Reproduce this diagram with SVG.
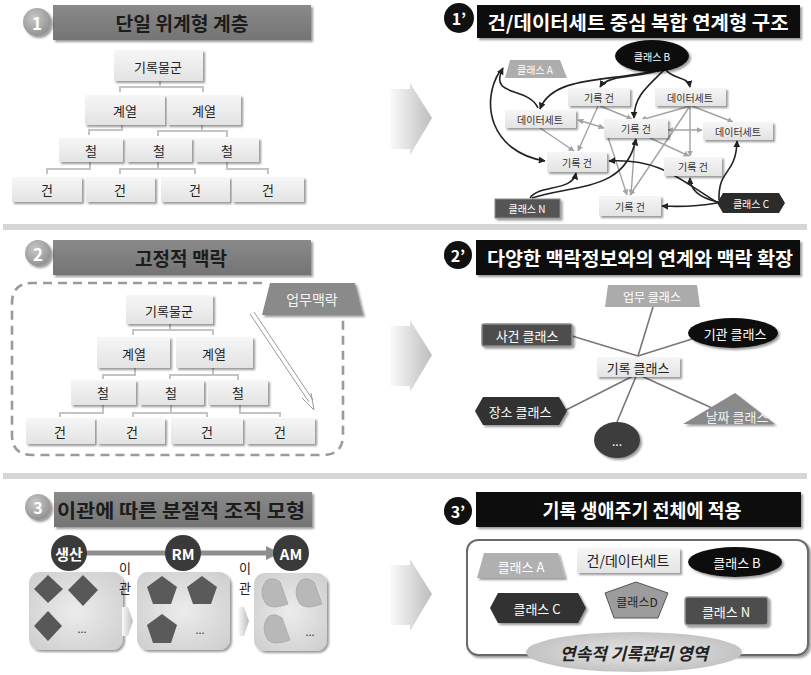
<svg xmlns="http://www.w3.org/2000/svg" width="811" height="675" viewBox="0 0 811 675">
<defs>
<style>
text{font-family:"Noto Sans CJK KR","Noto Sans",sans-serif;dominant-baseline:central;text-anchor:middle}
.tb{fill:#1c1c1c;font-weight:bold;font-size:19px}
.tw{fill:#fff;font-weight:bold;font-size:19px}
.bx{fill:url(#gBox);filter:url(#sh)}
.bt{fill:#222;font-size:13px}
.tl{fill:none;stroke:#c4c4c4;stroke-width:2}
.nt{fill:#333;font-size:10px}
.nw{fill:#fff;font-size:10px}
.dk{fill:none;stroke:#222;stroke-width:1.6;marker-end:url(#aD)}
.gr{fill:none;stroke:#a3a3a3;stroke-width:1.4;marker-end:url(#aG)}
.sp{fill:none;stroke:#777;stroke-width:1.6}
.lt{fill:#222;font-size:14px}
.vt{fill:#222;font-size:13px}
.wt{fill:#fff;font-size:13px}
.st{fill:#fff;font-weight:bold;font-size:15px}
</style>
<linearGradient id="gBox" x1="0" y1="0" x2="0" y2="1"><stop offset="0" stop-color="#f6f6f6"/><stop offset="1" stop-color="#e3e3e3"/></linearGradient>
<linearGradient id="gBar" x1="0" y1="0" x2="0" y2="1"><stop offset="0" stop-color="#8a8a8a"/><stop offset="1" stop-color="#747474"/></linearGradient>
<linearGradient id="gArr" x1="0" y1="0" x2="1" y2="0"><stop offset="0" stop-color="#fbfbfb"/><stop offset="1" stop-color="#bdbdbd"/></linearGradient>
<radialGradient id="gBadge" cx="0.4" cy="0.35" r="0.7"><stop offset="0" stop-color="#c8c8c8"/><stop offset="1" stop-color="#8e8e8e"/></radialGradient>
<radialGradient id="gPanel" cx="0.5" cy="0.5" r="0.7"><stop offset="0" stop-color="#ececec"/><stop offset="1" stop-color="#cdcdcd"/></radialGradient>
<radialGradient id="gEll" cx="0.5" cy="0.5" r="0.6"><stop offset="0" stop-color="#e6e6e6"/><stop offset="1" stop-color="#bdbdbd"/></radialGradient>
<filter id="sh" x="-20%" y="-20%" width="150%" height="160%"><feDropShadow dx="2" dy="2" stdDeviation="1.2" flood-color="#000" flood-opacity="0.4"/></filter>
<marker id="aD" viewBox="0 0 10 10" refX="9" refY="5" markerWidth="7" markerHeight="7" markerUnits="userSpaceOnUse" orient="auto-start-reverse"><path d="M0,0L10,5L0,10z" fill="#222"/></marker>
<marker id="aG" viewBox="0 0 10 10" refX="9" refY="5" markerWidth="6" markerHeight="6" markerUnits="userSpaceOnUse" orient="auto-start-reverse"><path d="M0,0L10,5L0,10z" fill="#a3a3a3"/></marker>
</defs>
<rect width="811" height="675" fill="#fff"/>

<!-- dividers -->
<rect x="3" y="224" width="804" height="6" fill="#d6d6d6"/>
<rect x="3" y="473" width="804" height="6" fill="#d6d6d6"/>

<!-- big arrows -->
<g id="bigArrows" fill="url(#gArr)">
<polygon points="390,89 410,89 410,83 432,118 410,155 410,149 390,149"/>
<polygon points="390,326 410,326 410,320 432,355 410,392 410,386 390,386"/>
<polygon points="390,565 410,565 410,559 432,594 410,631 410,625 390,625"/>
</g>

<!-- ===== Section 1 ===== -->
<g id="title1">
<rect x="53" y="5" width="258" height="35" fill="url(#gBar)" filter="url(#sh)"/>
<circle cx="37" cy="22" r="14" fill="url(#gBadge)" filter="url(#sh)"/>
<text x="37" y="22" fill="#fff" font-weight="bold" font-size="17">1</text>
<text class="tb" x="182" y="22" textLength="133" lengthAdjust="spacingAndGlyphs">단일 위계형 계층</text>
</g>
<g id="tree1-lines">
<polyline class="tl" points="160,81 160,87"/><polyline class="tl" points="120,92 120,87 203,87 203,92"/>
<polyline class="tl" points="122,125 122,130 89,130 89,135"/>
<polyline class="tl" points="202,125 202,131"/><polyline class="tl" points="158,136 158,131 227,131 227,137"/>
<polyline class="tl" points="90,162 90,169 47,169 47,174"/>
<polyline class="tl" points="158,162 158,169"/><polyline class="tl" points="120,174 120,169 195,169 195,174"/>
<polyline class="tl" points="227,162 227,169 268,169 268,174"/>
</g>
<g id="t1-root"><rect class="bx" x="114" y="50" width="89" height="31"/><text class="bt" x="158" y="66">기록물군</text></g>
<g id="t1-s1"><rect class="bx" x="85" y="95" width="80" height="30"/><text class="bt" x="125" y="110">계열</text></g>
<g id="t1-s2"><rect class="bx" x="167" y="95" width="74" height="30"/><text class="bt" x="204" y="110">계열</text></g>
<g id="t1-f1"><rect class="bx" x="59" y="138" width="64" height="24"/><text class="bt" x="91" y="150">철</text></g>
<g id="t1-f2"><rect class="bx" x="126" y="138" width="66" height="24"/><text class="bt" x="159" y="150">철</text></g>
<g id="t1-f3"><rect class="bx" x="195" y="138" width="64" height="24"/><text class="bt" x="227" y="150">철</text></g>
<g id="t1-i1"><rect class="bx" x="12" y="177" width="70" height="25"/><text class="bt" x="47" y="189">건</text></g>
<g id="t1-i2"><rect class="bx" x="86" y="177" width="69" height="25"/><text class="bt" x="120" y="189">건</text></g>
<g id="t1-i3"><rect class="bx" x="161" y="177" width="69" height="25"/><text class="bt" x="195" y="189">건</text></g>
<g id="t1-i4"><rect class="bx" x="232" y="177" width="72" height="25"/><text class="bt" x="268" y="189">건</text></g>

<!-- ===== Section 2 ===== -->
<g id="title2">
<rect x="53" y="240" width="258" height="35" fill="url(#gBar)" filter="url(#sh)"/>
<circle cx="38" cy="253" r="13" fill="url(#gBadge)" filter="url(#sh)"/>
<text x="38" y="253" fill="#fff" font-weight="bold" font-size="17">2</text>
<text class="tb" x="181" y="257" textLength="92" lengthAdjust="spacingAndGlyphs">고정적 맥락</text>
</g>
<g id="context-frame">
<path d="M262,283 L32,283 Q12,283 12,303 L12,435 Q12,455 32,455 L323,455 Q343,455 343,435 L343,315" fill="none" stroke="#9a9a9a" stroke-width="2.6" stroke-dasharray="9,6"/>
<polygon points="270,283 355,283 363,315 262,315" fill="#8a8a8a" filter="url(#sh)"/>
<text x="312" y="299" fill="#f4f4f4" font-size="14">업무맥락</text>
<g fill="none" stroke="#9a9a9a" stroke-width="1">
<line x1="250" y1="314" x2="309" y2="402"/><line x1="254" y1="312" x2="313" y2="400"/>
<polyline points="302,398 314,410 311,393"/>
</g>
</g>
<g id="tree2-lines">
<polyline class="tl" points="170,324 170,330"/><polyline class="tl" points="133,335 133,330 213,330 213,335"/>
<polyline class="tl" points="135,368 135,375 103,375 103,379"/>
<polyline class="tl" points="213,368 213,375"/><polyline class="tl" points="170,379 170,375 238,375 238,380"/>
<polyline class="tl" points="103,405 103,413 60,413 60,417"/>
<polyline class="tl" points="171,405 171,413"/><polyline class="tl" points="133,417 133,413 207,413 207,417"/>
<polyline class="tl" points="240,405 240,413 280,413 280,417"/>
</g>
<g id="t2-root"><rect class="bx" x="126" y="295" width="87" height="29"/><text class="bt" x="169" y="310">기록물군</text></g>
<g id="t2-s1"><rect class="bx" x="97" y="337" width="73" height="31"/><text class="bt" x="134" y="353">계열</text></g>
<g id="t2-s2"><rect class="bx" x="176" y="337" width="77" height="31"/><text class="bt" x="214" y="353">계열</text></g>
<g id="t2-f1"><rect class="bx" x="71" y="380" width="65" height="25"/><text class="bt" x="103" y="392">철</text></g>
<g id="t2-f2"><rect class="bx" x="139" y="380" width="65" height="25"/><text class="bt" x="171" y="392">철</text></g>
<g id="t2-f3"><rect class="bx" x="208" y="380" width="60" height="25"/><text class="bt" x="238" y="392">철</text></g>
<g id="t2-i1"><rect class="bx" x="26" y="418" width="69" height="26"/><text class="bt" x="60" y="431">건</text></g>
<g id="t2-i2"><rect class="bx" x="97" y="418" width="68" height="26"/><text class="bt" x="132" y="431">건</text></g>
<g id="t2-i3"><rect class="bx" x="171" y="418" width="72" height="26"/><text class="bt" x="207" y="431">건</text></g>
<g id="t2-i4"><rect class="bx" x="246" y="418" width="69" height="26"/><text class="bt" x="280" y="431">건</text></g>

<!-- ===== Section 3 ===== -->
<g id="title3">
<rect x="54" y="492" width="258" height="35" fill="url(#gBar)" filter="url(#sh)"/>
<circle cx="38" cy="507" r="13" fill="url(#gBadge)" filter="url(#sh)"/>
<text x="38" y="507" fill="#fff" font-weight="bold" font-size="16">3</text>
<text class="tb" x="181" y="509" textLength="248" lengthAdjust="spacingAndGlyphs">이관에 따른 분절적 조직 모형</text>
</g>
<g id="flow-line">
<line x1="80" y1="553" x2="268" y2="553" stroke="#8e8e8e" stroke-width="5"/>
<polygon points="266,546 280,553 266,560" fill="#8e8e8e"/>
</g>
<g id="panel1">
<rect x="29" y="572" width="94" height="78" rx="11" fill="url(#gPanel)" filter="url(#sh)"/>
<g fill="#585858"><polygon points="48,575 63,589 48,603 34,589"/><polygon points="83,575 98,590 83,606 68,590"/><polygon points="48,611 62,626 48,641 34,626"/></g>
<text x="82" y="628" fill="#333" font-size="11">...</text>
</g>
<g id="panel2">
<rect x="137" y="572" width="93" height="78" rx="11" fill="url(#gPanel)" filter="url(#sh)"/>
<g fill="#5a5a5a"><polygon points="162,576 177,587 171,604 153,604 147,587"/><polygon points="202,576 217,587 211,604 193,604 187,587"/><polygon points="162,614 177,625 171,643 153,643 147,625"/></g>
<text x="200" y="629" fill="#333" font-size="11">...</text>
</g>
<g id="panel3">
<rect x="254" y="573" width="73" height="78" rx="11" fill="url(#gPanel)" filter="url(#sh)"/>
<g fill="#b8b8b8" stroke="#a8a8a8" stroke-width="0.8">
<path d="M266,581 Q258,592 266,604 Q272,610 288,604 L280,582 Q272,576 266,581 Z"/>
<path d="M300,581 Q292,592 300,604 Q306,610 322,604 L314,582 Q306,576 300,581 Z"/>
<path d="M268,617 Q260,628 268,640 Q274,646 290,640 L282,618 Q274,612 268,617 Z"/>
</g>
<text x="310" y="631" fill="#333" font-size="11">...</text>
</g>
<g id="stage-sangsan"><circle cx="69" cy="553" r="18" fill="#3a3a3a"/><text class="st" x="69" y="553">생산</text></g>
<g id="stage-rm"><circle cx="183" cy="553" r="18" fill="#3a3a3a"/><text class="st" x="183" y="553">RM</text></g>
<g id="stage-am"><circle cx="291" cy="553" r="18" fill="#3a3a3a"/><text class="st" x="291" y="553">AM</text></g>
<g id="transfer1">
<text class="vt" x="125" y="567">이</text><text class="vt" x="125" y="587">관</text>
<polygon points="122,607 128,607 133,621 128,636 122,636" fill="url(#gArr)"/>
</g>
<g id="transfer2">
<text class="vt" x="245" y="567">이</text><text class="vt" x="245" y="587">관</text>
<polygon points="238,607 244,607 249,621 244,636 238,636" fill="url(#gArr)"/>
</g>

<!-- ===== Section 1' ===== -->
<g id="title1p">
<rect x="477" y="5" width="323" height="33" fill="#0a0a0a" filter="url(#sh)"/>
<circle cx="459" cy="18" r="15" fill="#111"/>
<text x="459" y="18" fill="#fff" font-weight="bold" font-size="16">1’</text>
<text class="tw" x="638" y="21" textLength="301" lengthAdjust="spacingAndGlyphs">건/데이터세트 중심 복합 연계형 구조</text>
</g>
<g id="net-connectors">
<path class="gr" d="M598,106 L578,151"/>
<path class="gr" d="M600,106 L632,119"/>
<path class="gr" d="M578,120 L604,128" marker-start="url(#aG)"/>
<path class="gr" d="M540,128 L574,151"/>
<path class="gr" d="M690,106 L641,120"/>
<path class="gr" d="M692,106 L733,122"/>
<path class="gr" d="M690,106 L690,156"/>
<path class="gr" d="M690,106 L630,195"/>
<path class="gr" d="M668,130 L702,130" marker-start="url(#aG)"/>
<path class="gr" d="M650,138 L689,156"/>
<path class="gr" d="M606,131 L627,195"/>
<path class="gr" d="M635,139 L631,195"/>
<path class="dk" d="M660,70 C640,78 608,74 600,87"/>
<path class="dk" d="M666,70 C674,80 688,76 690,87"/>
<path class="dk" d="M657,70 C615,82 553,74 540,109"/>
<path class="dk" d="M538,108 C528,86 488,98 503,68"/>
<path class="dk" d="M500,71 C480,102 490,152 545,161"/>
<path class="dk" d="M664,70 C648,86 634,96 634,118"/>
<path class="dk" d="M530,198 C540,184 572,192 576,173"/>
<path class="dk" d="M532,198 C575,184 625,192 636,139"/>
<path class="dk" d="M717,203 C700,206 680,207 662,206"/>
<path class="dk" d="M718,202 C700,198 690,190 690,178"/>
<path class="dk" d="M719,200 C718,168 736,176 737,141"/>
<path class="dk" d="M718,203 C680,180 660,158 609,161"/>
</g>
<g id="n-classB"><ellipse cx="652" cy="56" rx="37" ry="16" fill="#111" filter="url(#sh)"/><text class="nw" x="652" y="56">클래스 B</text></g>
<g id="n-classA"><polygon points="510,60 560,60 567,78 505,78" fill="#adadad"/><text class="nw" x="535" y="69">클래스 A</text></g>
<g id="n-recTop"><rect class="bx" x="568" y="88" width="62" height="18"/><text class="nt" x="599" y="97">기록 건</text></g>
<g id="n-dsTR"><rect class="bx" x="655" y="88" width="71" height="18"/><text class="nt" x="690" y="97">데이터세트</text></g>
<g id="n-dsL"><rect class="bx" x="505" y="110" width="71" height="18"/><text class="nt" x="540" y="119">데이터세트</text></g>
<g id="n-recC"><rect class="bx" x="604" y="119" width="64" height="19"/><text class="nt" x="636" y="128">기록 건</text></g>
<g id="n-dsR"><rect class="bx" x="703" y="122" width="70" height="18"/><text class="nt" x="738" y="131">데이터세트</text></g>
<g id="n-recML"><rect class="bx" x="547" y="152" width="60" height="20"/><text class="nt" x="577" y="162">기록 건</text></g>
<g id="n-recMR"><rect class="bx" x="664" y="157" width="58" height="19"/><text class="nt" x="693" y="166">기록 건</text></g>
<g id="n-classN"><rect x="495" y="199" width="65" height="19" fill="#555" stroke="#8a8a8a" stroke-width="1" filter="url(#sh)"/><text class="nw" x="527" y="208">클래스 N</text></g>
<g id="n-recB"><rect class="bx" x="599" y="196" width="62" height="20"/><text class="nt" x="630" y="206">기록 건</text></g>
<g id="n-classC"><polygon points="723,193 779,193 785,203 779,213 723,213 717,203" fill="#2b2b2b"/><text class="nw" x="751" y="203">클래스 C</text></g>

<!-- ===== Section 2' ===== -->
<g id="title2p">
<rect x="476" y="240" width="324" height="35" fill="#0a0a0a" filter="url(#sh)"/>
<circle cx="458" cy="255" r="14" fill="#111"/>
<text x="458" y="255" fill="#fff" font-weight="bold" font-size="16">2’</text>
<text class="tw" x="640" y="257" textLength="306" lengthAdjust="spacingAndGlyphs">다양한 맥락정보와의 연계와 맥락 확장</text>
</g>
<g id="ctx-connectors">
<line class="sp" x1="653" y1="307" x2="638" y2="356"/>
<line class="sp" x1="572" y1="336" x2="638" y2="356"/>
<line class="sp" x1="692" y1="339" x2="638" y2="356"/>
<line class="sp" x1="637" y1="374" x2="566" y2="410"/>
<line class="sp" x1="637" y1="374" x2="617" y2="422"/>
<line class="sp" x1="637" y1="374" x2="712" y2="408"/>
</g>
<g id="c-work"><polygon points="608,285 697,285 700,307 605,307" fill="#ababab"/><text x="652" y="296" fill="#fff" font-size="12">업무 클래스</text></g>
<g id="c-event"><rect x="482" y="324" width="90" height="22" rx="2" fill="#4d4d4d" stroke="#8a8a8a" stroke-width="1.5" filter="url(#sh)"/><text class="wt" x="527" y="335">사건 클래스</text></g>
<g id="c-org"><ellipse cx="733" cy="333" rx="45" ry="15" fill="#111" filter="url(#sh)"/><text class="wt" x="735" y="333">기관 클래스</text></g>
<g id="c-record"><rect class="bx" x="597" y="357" width="83" height="20"/><text class="bt" x="638" y="367">기록 클래스</text></g>
<g id="c-place"><polygon points="483,397 559,397 567,411 559,425 483,425 475,411" fill="#333" filter="url(#sh)"/><text class="wt" x="520" y="411">장소 클래스</text></g>
<g id="c-date"><polygon points="683,424 735,393 775,424" fill="#8a8a8a" filter="url(#sh)"/><text x="737" y="416" fill="#f2f2f2" font-size="13">날짜 클래스</text></g>
<g id="c-more"><ellipse cx="617" cy="440" rx="23" ry="18" fill="#3c3c3c" filter="url(#sh)"/><text x="617" y="440" fill="#fff" font-size="12">...</text></g>

<!-- ===== Section 3' ===== -->
<g id="title3p">
<rect x="476" y="492" width="325" height="35" fill="#0a0a0a" filter="url(#sh)"/>
<circle cx="458" cy="511" r="14" fill="#111"/>
<text x="458" y="511" fill="#fff" font-weight="bold" font-size="16">3’</text>
<text class="tw" x="642" y="509" textLength="199" lengthAdjust="spacingAndGlyphs">기록 생애주기 전체에 적용</text>
</g>
<g id="lifecycle-frame">
<rect x="467" y="540" width="341" height="115" rx="11" fill="#fff" stroke="#6b6b6b" stroke-width="2" filter="url(#sh)"/>
</g>
<g id="l-classA"><polygon points="484,553 558,553 565,578 477,578" fill="#b0b0b0" filter="url(#sh)"/><text class="wt" x="521" y="566">클래스 A</text></g>
<g id="l-ds"><rect class="bx" x="577" y="548" width="103" height="25"/><text class="lt" x="628" y="560">건/데이터세트</text></g>
<g id="l-classB"><ellipse cx="735" cy="562" rx="47" ry="15" fill="#111" filter="url(#sh)"/><text class="wt" x="737" y="562">클래스 B</text></g>
<g id="l-classC"><polygon points="498,593 578,593 586,608 578,623 498,623 490,608" fill="#333" filter="url(#sh)"/><text class="wt" x="537" y="608">클래스 C</text></g>
<g id="l-classD"><polygon points="636,582 668,593 658,618 614,618 605,593" fill="#9c9c9c" stroke="#555" stroke-width="1"/><text x="637" y="601" fill="#222" font-size="12">클래스D</text></g>
<g id="l-classN"><rect x="685" y="597" width="83" height="28" rx="3" fill="#4d4d4d" stroke="#9a9a9a" stroke-width="1.5" filter="url(#sh)"/><text class="wt" x="726" y="611">클래스 N</text></g>
<g id="l-area"><ellipse cx="634" cy="652" rx="108" ry="20" fill="url(#gEll)"/><text x="634" y="652" fill="#222" font-size="17" font-weight="bold" font-style="italic">연속적 기록관리 영역</text></g>
</svg>
